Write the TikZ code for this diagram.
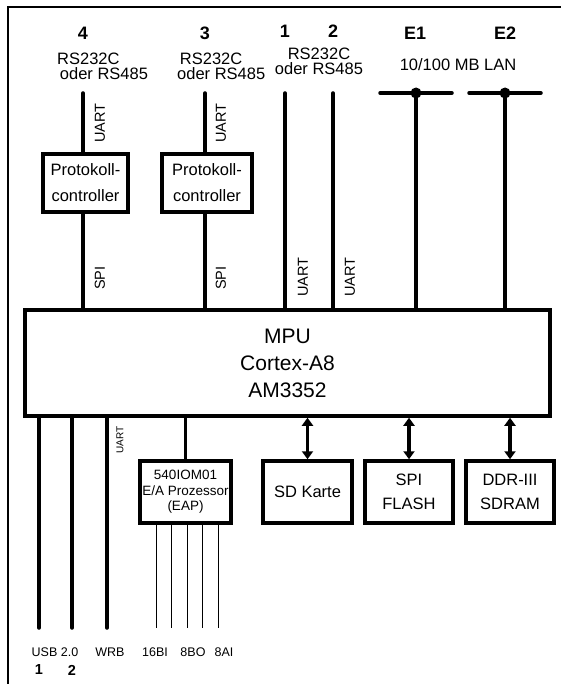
\documentclass[tikz,border=0pt]{standalone}
\usepackage{fontspec}
\setmainfont{Liberation Sans}
\usetikzlibrary{arrows.meta}

\begin{document}
\begin{tikzpicture}[x=1pt, y=-1pt,
  every node/.style={font=\fontsize{16.5}{24}\selectfont, inner sep=0pt},
  block/.style={draw, line width=3.5pt, align=center},
  bus/.style={line width=3.5pt, line cap=round},
  wire/.style={line width=1pt},
  vlabel/.style={rotate=90, font=\fontsize{14.5}{16}\selectfont},
  num/.style={font=\bfseries\fontsize{18}{20}\selectfont},
  small/.style={font=\fontsize{12.5}{14}\selectfont},
  dbl/.style={line width=3.5pt, {Triangle[width=11pt,length=8pt]}-{Triangle[width=11pt,length=8pt]}}]
  \useasboundingbox (0,0) rectangle (561,684);
  \draw[line width=1.8pt] (561,7) -- (8,7) -- (8,684);

  % processor
  \node[block, minimum width=525pt, minimum height=106pt, font=\fontsize{21}{27}\selectfont] (mpu) at (287.5,363) {MPU\\Cortex-A8\\AM3352};

  % serial ports and LAN (top)
  \node[block, minimum width=85pt, minimum height=58pt, font=\fontsize{16.5}{26}\selectfont] (pc4) at (85.5,183) {Protokoll-\\controller};
  \node[block, minimum width=90pt, minimum height=58pt, font=\fontsize{16.5}{26}\selectfont] (pc3) at (207,183) {Protokoll-\\controller};
  \coordinate (t4) at (83,93);
  \coordinate (t3) at (205,93);
  \coordinate (t1) at (285,93);
  \coordinate (t2) at (333,93);
  \coordinate (e1) at (416,93);
  \coordinate (e2) at (505,93);
  \coordinate (e1l) at (380,93);
  \coordinate (e1r) at (452,93);
  \coordinate (e2l) at (469,93);
  \coordinate (e2r) at (541,93);
  \draw[bus] (t4) -- (pc4.north -| t4);
  \draw[bus] (pc4.south -| t4) -- (mpu.north -| t4);
  \draw[bus] (t3) -- (pc3.north -| t3);
  \draw[bus] (pc3.south -| t3) -- (mpu.north -| t3);
  \draw[bus] (t1) -- (mpu.north -| t1);
  \draw[bus] (t2) -- (mpu.north -| t2);
  \draw[bus] (e1l) -- (e1r);
  \draw[bus] (e2l) -- (e2r);
  \draw[bus] (e1) -- (mpu.north -| e1);
  \draw[bus] (e2) -- (mpu.north -| e2);
  \fill (e1) circle (5.5pt);
  \fill (e2) circle (5.5pt);

  \node[num] (n4) at (83,33) {4};
  \node[num] (n3) at (205,33) {3};
  \node[num] (n1) at (285,31) {1};
  \node[num] (n2) at (333,31) {2};
  \node[num] (ne1) at (415,33) {E1};
  \node[num] (ne2) at (505,33) {E2};
  \node[anchor=west, align=left, font=\fontsize{16.5}{15}\selectfont] (rs4) at (57,66.5) {RS232C\\ \,oder RS485};
  \node[anchor=west, align=left, font=\fontsize{16.5}{15}\selectfont] (rs3) at (177,66.5) {\,RS232C\\oder RS485};
  \node[align=center, font=\fontsize{16.5}{15}\selectfont] (rs12) at (319,61.5) {RS232C\\oder RS485};
  \node (lan) at (458,65) {10/100 MB LAN};

  \node[vlabel] (u4) at (100,123) {UART};
  \node[vlabel] (u3) at (221,123) {UART};
  \node[vlabel] (s4) at (100,278) {SPI};
  \node[vlabel] (s3) at (221,278) {SPI};
  \node[vlabel] (u1) at (303,277) {UART};
  \node[vlabel] (u2) at (350,277) {UART};

  % bottom side
  \coordinate (usb1) at (39,628);
  \coordinate (usb2) at (72,628);
  \coordinate (wrb) at (107,628);
  \draw[bus] (mpu.south -| usb1) -- (usb1);
  \draw[bus] (mpu.south -| usb2) -- (usb2);
  \draw[bus] (mpu.south -| wrb) -- (wrb);
  \node[vlabel, font=\fontsize{10}{12}\selectfont] (uw) at (120,440) {UART};

  \node[block, minimum width=91pt, minimum height=62pt, font=\fontsize{13.5}{15.5}\selectfont] (eap) at (185.5,492) {540IOM01\\E/A Prozessor\\(EAP)};
  \draw[bus] (mpu.south -| eap) -- (eap.north);
  \coordinate (io1) at (156,628);
  \coordinate (io2) at (171,628);
  \coordinate (io3) at (187,628);
  \coordinate (io4) at (202,628);
  \coordinate (io5) at (218,628);
  \draw[wire] (eap.south -| io1) -- (io1);
  \draw[wire] (eap.south -| io2) -- (io2);
  \draw[wire] (eap.south -| io3) -- (io3);
  \draw[wire] (eap.south -| io4) -- (io4);
  \draw[wire] (eap.south -| io5) -- (io5);

  \node[small] (lusb) at (55,652) {USB 2.0};
  \node[small] (lwrb) at (110,652) {WRB};
  \node[small] (lbi) at (155,652) {16BI};
  \node[small] (lbo) at (193,652) {8BO};
  \node[small] (lai) at (224,652) {8AI};
  \node[font=\bfseries\fontsize{14.5}{16}\selectfont] (b1) at (39,670) {1};
  \node[font=\bfseries\fontsize{14.5}{16}\selectfont] (b2) at (72,670) {2};

  \node[block, minimum width=89pt, minimum height=62pt] (sd) at (307.5,492) {SD Karte};
  \node[block, minimum width=88pt, minimum height=62pt] (flash) at (409,492) {SPI\\FLASH};
  \node[block, minimum width=88pt, minimum height=62pt] (ddr) at (510,492) {DDR-III\\SDRAM};
  \draw[dbl] (mpu.south -| sd) -- (sd.north);
  \draw[dbl] (mpu.south -| flash) -- (flash.north);
  \draw[dbl] (mpu.south -| ddr) -- (ddr.north);
\end{tikzpicture}
\end{document}
